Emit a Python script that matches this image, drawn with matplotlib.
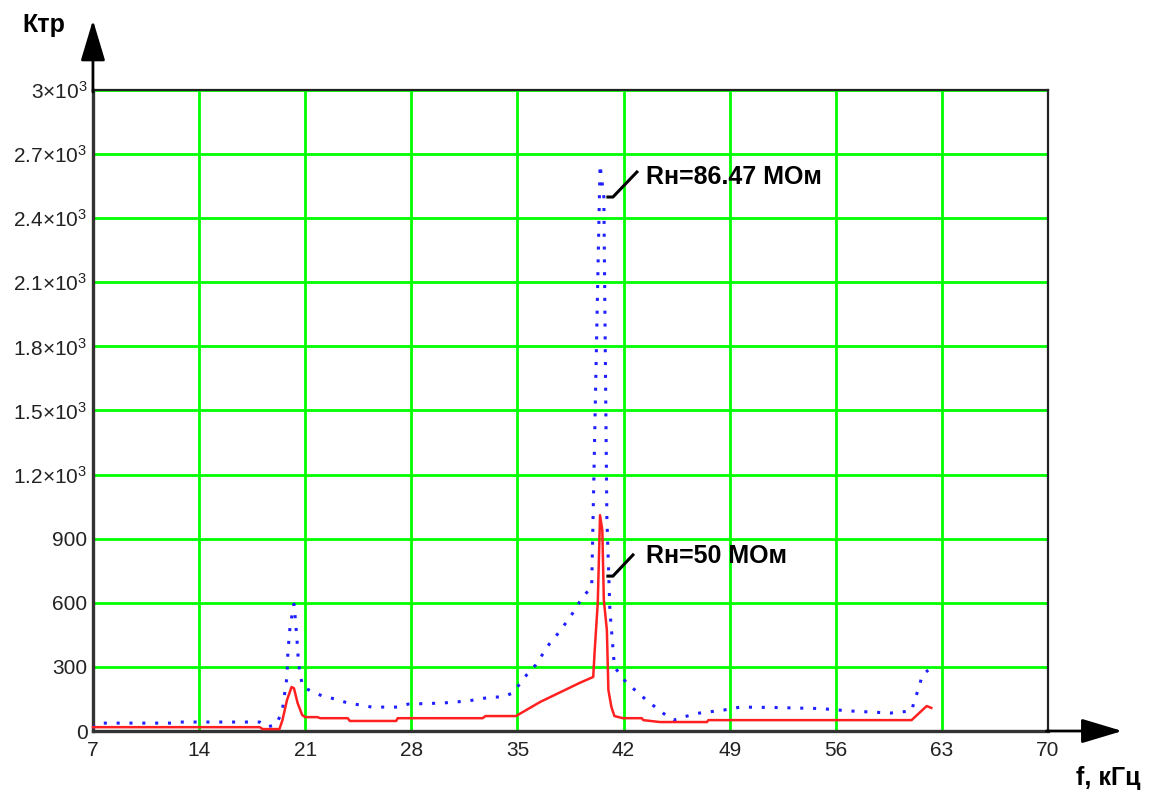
import matplotlib
matplotlib.use("Agg")
import matplotlib.pyplot as plt
from matplotlib import ticker

plt.rcParams['font.family'] = ['Liberation Sans', 'DejaVu Sans']
plt.rcParams['mathtext.default'] = 'regular'

# frequency response, Rн = 86.47 МОм
blue_f = [7, 7.3, 12.1, 12.7, 18.0, 18.5, 19.1, 19.5, 19.6, 19.8, 19.86, 20.0,
          20.13, 20.26, 20.33, 20.46, 20.56, 20.7, 20.85, 21.5, 22.3, 23.0, 23.8,
          24.6, 25.4, 27.1, 27.8, 30.1, 30.9, 31.7, 32.5, 33.3, 34.0, 34.7, 35.2,
          35.6, 36.2, 37.1, 37.5, 38.5, 39.3, 39.9, 40.45, 40.7, 40.9, 41.1, 41.4,
          42.2, 42.9, 43.5, 44.6, 45.3, 45.9, 47.0, 48.6, 49.7, 52.0, 55.0, 56.9,
          59.6, 61.0, 61.2, 61.5, 61.7, 62.1]
blue_k = [15, 37, 37, 42, 42, 19, 30, 98, 154, 253, 370, 487,
          543, 594, 540, 426, 318, 253, 206, 183, 159, 150, 131,
          122, 112, 112, 126, 131, 136, 140, 150, 159, 159, 178, 225,
          262, 309, 407, 440, 535, 627, 674, 2650, 2500, 1000, 566, 300,
          225, 183, 145, 84, 51, 65, 84, 98, 112, 110, 105, 94,
          84, 94, 145, 206, 262, 285]

# frequency response, Rн = 50 МОм
red_f = [7, 18.0, 18.2, 19.3, 19.5, 19.8, 20.1, 20.26, 20.5, 20.8,
         21.0, 21.8, 22.0, 23.8, 23.95, 27.0, 27.1, 32.7, 32.9, 34.9,
         36.5, 39.1, 40.0, 40.1, 40.3, 40.45, 40.6, 40.7, 40.9, 41.0,
         41.2, 41.4, 41.96, 43.2, 43.3, 44.4, 47.5, 47.6, 61.0, 62.0, 62.3]
red_k = [18, 18, 9, 9, 51, 145, 206, 200, 131, 75,
         65, 65, 60, 60, 47, 47, 60, 60, 70, 70,
         136, 225, 253, 379, 600, 1010, 940, 613, 473, 192,
         112, 70, 60, 60, 51, 42, 42, 51, 51, 117, 108]

x_ticks = [7, 14, 21, 28, 35, 42, 49, 56, 63, 70]
y_ticks = [0, 300, 600, 900, 1200, 1500, 1800, 2100, 2400, 2700, 3000]
y_labels = ['0', '300', '600', '900',
            '1.2×10$^3$', '1.5×10$^3$', '1.8×10$^3$', '2.1×10$^3$',
            '2.4×10$^3$', '2.7×10$^3$', '3×10$^3$']

fig = plt.figure(figsize=(11.49, 7.92), dpi=100)
ax = fig.add_axes([0.0809, 0.077, 0.8312, 0.8094])

ax.set_xlim(7, 70)
ax.set_ylim(0, 3000)
ax.xaxis.set_major_locator(ticker.FixedLocator(x_ticks))
ax.yaxis.set_major_locator(ticker.FixedLocator(y_ticks))
ax.set_yticklabels(y_labels)
ax.tick_params(length=0, labelsize=15, colors='#222222')
ax.tick_params(axis='y', pad=4)
ax.tick_params(axis='x', pad=7)
ax.grid(True, color='#00ff00', lw=2)

for side in ['top', 'right']:
    ax.spines[side].set_color('#222222')
    ax.spines[side].set_linewidth(1.6)
for side in ['left', 'bottom']:
    ax.spines[side].set_color('#333333')
    ax.spines[side].set_linewidth(2.4)

ax.plot(blue_f, blue_k, color='#2020ff', lw=2.2, linestyle=(0, (1, 3.2)),
        clip_on=False, zorder=3)
ax.plot(red_f, red_k, color='#ff2020', lw=1.8, clip_on=False, zorder=4)

# axis arrows
arrow = dict(arrowstyle='-|>,head_length=1.4,head_width=0.42', color='black',
             lw=2, mutation_scale=18, shrinkA=0, shrinkB=0)
ax.annotate('', xy=(7, 3327), xytext=(7, 2990), arrowprops=arrow,
            annotation_clip=False)
ax.annotate('', xy=(74.9, 0), xytext=(69.9, 0), arrowprops=arrow,
            annotation_clip=False)

# curve captions with leader lines
ax.plot([40.97, 41.3, 42.88], [2499, 2499, 2616], color='black', lw=2.2)
ax.text(43.5, 2593, 'Rн=86.47 МОм', fontsize=18, fontweight='bold',
        va='center', ha='left')
ax.plot([40.97, 41.3, 42.62], [725, 725, 824], color='black', lw=2.2)
ax.text(43.5, 819, 'Rн=50 МОм', fontsize=18, fontweight='bold',
        va='center', ha='left')

fig.text(22 / 1149, 1 - 25 / 792, 'Ктр', fontsize=18, fontweight='bold',
         va='center', ha='left')
fig.text(1140 / 1149, 1 - 778 / 792, 'f, кГц', fontsize=18, fontweight='bold',
         va='center', ha='right')

fig.savefig('out.png', dpi=100, facecolor='white')
